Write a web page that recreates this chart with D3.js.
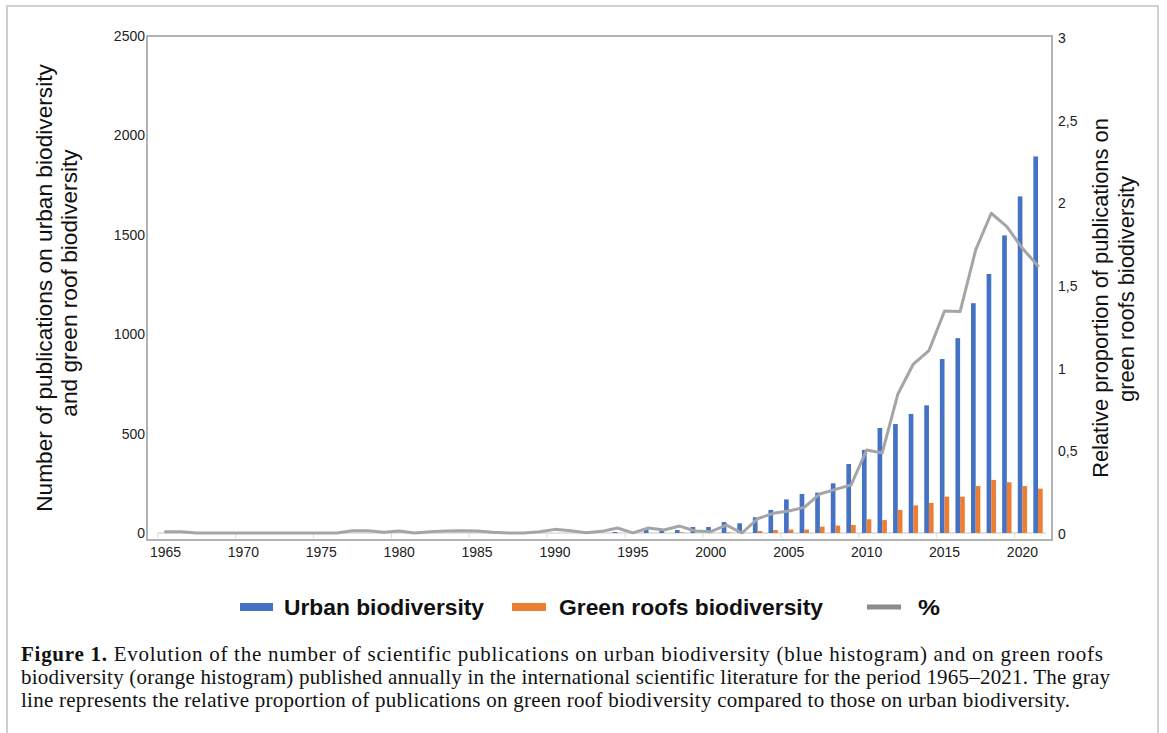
<!DOCTYPE html>
<html><head><meta charset="utf-8">
<script src="https://cdn.jsdelivr.net/npm/d3@7/dist/d3.min.js"></script>
<style>
html,body{margin:0;padding:0;background:#fff;}
svg{display:block;}
</style></head>
<body>
<svg id="chart" width="1167" height="733"></svg>
<script>
const years = [1965,1966,1967,1968,1969,1970,1971,1972,1973,1974,1975,1976,1977,1978,1979,1980,1981,1982,1983,1984,1985,1986,1987,1988,1989,1990,1991,1992,1993,1994,1995,1996,1997,1998,1999,2000,2001,2002,2003,2004,2005,2006,2007,2008,2009,2010,2011,2012,2013,2014,2015,2016,2017,2018,2019,2020,2021];
const urbanBiodiversity = [0,0,0,0,0,0,0,0,0,0,0,0,0,0,0,0,0,0,0,0,0,0,0,0,0,0,0,0,0,5,0,15,12,15,30,30,55,49,79,116,169,196,203,250,347,418,528,548,599,642,875,980,1156,1303,1497,1693,1894];
const greenRoofsBiodiversity = [0,0,0,0,0,0,0,0,0,0,0,0,0,0,0,0,0,0,0,0,0,0,0,0,0,0,0,0,0,0,0,0,0,3,0,0,3,0,10,15,17,17,32,37,40,69,65,116,139,151,183,183,236,267,255,236,223];
const percentShare = [0.008,0.008,0,0,0,0,0,0,0,0,0,0,0.014,0.014,0.004,0.012,0,0.008,0.012,0.014,0.012,0.004,0,0,0.008,0.022,0.014,0.002,0.01,0.03,0.001,0.03,0.018,0.042,0.012,0.008,0.048,0.0,0.086,0.119,0.133,0.155,0.236,0.264,0.29,0.502,0.484,0.839,1.022,1.103,1.343,1.339,1.712,1.934,1.853,1.722,1.615];
const leftTicks = [0,500,1000,1500,2000,2500];
const rightTicks = [0,0.5,1,1.5,2,2.5,3];
const xLabelYears = [1965,1970,1975,1980,1985,1990,1995,2000,2005,2010,2015,2020];
const leftTitle = ["Number of publications on urban biodiversity","and green roof biodiversity"];
const rightTitle = ["Relative proportion of publications on","green roofs biodiversity"];
const legendItems = ["Urban biodiversity","Green roofs biodiversity","%"];
const captionLines = [
  ["Figure 1.", " Evolution of the number of scientific publications on urban biodiversity (blue histogram) and on green roofs"],
  ["", "biodiversity (orange histogram) published annually in the international scientific literature for the period 1965\u20132021. The gray"],
  ["", "line represents the relative proportion of publications on green roof biodiversity compared to those on urban biodiversity."]
];

const BLUE = "#4472C4", ORANGE = "#ED7D31", GRAY = "#A5A5A5";
const svg = d3.select("#chart");
const SANS = "'Liberation Sans', Arial, sans-serif";
const SERIF = "'Liberation Serif', 'Times New Roman', serif";

// figure border
svg.append("path").attr("d","M7,733 V6 H1158 V733").attr("fill","none").attr("stroke","#cfcfcf").attr("stroke-width",2);

// scales
const x = d3.scaleBand().domain(years).range([157.7, 1045.8]);
const step = x.step();
const xs = d3.scaleBand().domain(["u","g"]).range([step*0.2, step*0.8]);
const yL = d3.scaleLinear().domain([0,2500]).range([533, 36]);
const yR = d3.scaleLinear().domain([0,3]).range([533, 37]);

// frame
svg.append("rect").attr("x",147).attr("y",36).attr("width",905).attr("height",504)
  .attr("fill","none").attr("stroke","#9a9a9a").attr("stroke-width",1.5);

// category baseline + ticks
const base = svg.append("g");
base.append("line").attr("x1",x.range()[0]).attr("x2",x.range()[1]).attr("y1",533).attr("y2",533)
  .attr("stroke","#d9d9d9").attr("stroke-width",1.5);
base.selectAll("line.tk").data(xLabelYears).join("line").attr("class","tk")
  .attr("x1",d=>x(d)).attr("x2",d=>x(d)).attr("y1",533).attr("y2",538)
  .attr("stroke","#d9d9d9").attr("stroke-width",1);

// bars
const groups = svg.append("g").selectAll("g").data(years).join("g")
  .attr("transform",d=>`translate(${x(d)},0)`);
groups.append("rect").attr("x",xs("u")).attr("width",xs.bandwidth())
  .attr("y",(d,i)=>yL(urbanBiodiversity[i])).attr("height",(d,i)=>yL(0)-yL(urbanBiodiversity[i]))
  .attr("fill",BLUE);
groups.append("rect").attr("x",xs("g")).attr("width",xs.bandwidth())
  .attr("y",(d,i)=>yL(greenRoofsBiodiversity[i])).attr("height",(d,i)=>yL(0)-yL(greenRoofsBiodiversity[i]))
  .attr("fill",ORANGE);

// line
const line = d3.line().x((d,i)=>x(years[i])+step/2).y(d=>yR(d));
svg.append("path").datum(percentShare).attr("d",line).attr("fill","none")
  .attr("stroke",GRAY).attr("stroke-width",3).attr("stroke-linejoin","round").attr("stroke-linecap","round");

// left axis labels
svg.append("g").selectAll("text").data(leftTicks).join("text")
  .attr("x",145).attr("y",d=>yL(d)+5).attr("text-anchor","end")
  .attr("font-family",SANS).attr("font-size",14).attr("fill","#222").text(d=>d);
// right axis labels
const fmtR = d => String(d).replace(".",",");
svg.append("g").selectAll("text").data(rightTicks).join("text")
  .attr("x",1058).attr("y",d=>yR(d)+6).attr("text-anchor","start")
  .attr("font-family",SANS).attr("font-size",14).attr("fill","#222").text(fmtR);
// x labels
svg.append("g").selectAll("text").data(xLabelYears).join("text")
  .attr("x",d=>x(d)+step/2).attr("y",557).attr("text-anchor","middle")
  .attr("font-family",SANS).attr("font-size",14).attr("fill","#222").text(d=>d);

// axis titles
function fitSize(str, target, base, family, weight){
  const t = svg.append("text").attr("font-family",family||SANS).attr("font-size",base).attr("font-weight",weight||"normal").text(str);
  const w = t.node().getComputedTextLength(); t.remove();
  return base*target/w;
}
const lfs = fitSize(leftTitle[0], 448, 20);
[52,77].forEach((bx,i)=>{
  svg.append("text").attr("transform",`translate(${bx},${[288,283][i]}) rotate(-90)`)
    .attr("text-anchor","middle").attr("font-family",SANS).attr("font-size",lfs).attr("fill","#111")
    .text(leftTitle[i]);
});
const rfs = fitSize(rightTitle[0], 360, 20);
[1108,1134].forEach((bx,i)=>{
  svg.append("text").attr("transform",`translate(${bx},${[298,289][i]}) rotate(-90)`)
    .attr("text-anchor","middle").attr("font-family",SANS).attr("font-size",rfs).attr("fill","#111")
    .text(rightTitle[i]);
});

// legend
const legendSw = [{x:240,w:33,c:BLUE,h:8},{x:512,w:34,c:ORANGE,h:8},{x:867,w:34,c:"#8c8c8c",h:5}];
const legendTx = [{x:284,w:200},{x:559,w:264},{x:918,w:22}];
const lg = svg.append("g");
legendItems.forEach((t,i)=>{
  lg.append("rect").attr("x",legendSw[i].x).attr("y",607-legendSw[i].h/2).attr("width",legendSw[i].w).attr("height",legendSw[i].h).attr("fill",legendSw[i].c);
  lg.append("text").attr("x",legendTx[i].x).attr("y",615).attr("font-family",SANS).attr("font-weight","bold")
    .attr("font-size",22).attr("fill","#111").attr("textLength",legendTx[i].w).attr("lengthAdjust","spacingAndGlyphs").text(t);
});

// caption
const capTargets = [1082, 1089, 1049];
const capBase = [661, 684, 707];
const capFs = Math.min(21, fitSize(captionLines[0].join(""), 1082, 19, SERIF));
captionLines.forEach((ln,i)=>{
  const t = svg.append("text").attr("x",21).attr("y",capBase[i]).attr("font-family",SERIF).attr("font-size",capFs).attr("fill","#111");
  if (ln[0]) t.append("tspan").attr("font-weight","bold").text(ln[0]);
  t.append("tspan").text(ln[1]);
  t.attr("textLength",capTargets[i]).attr("lengthAdjust","spacing");
});
</script>
</body></html>
